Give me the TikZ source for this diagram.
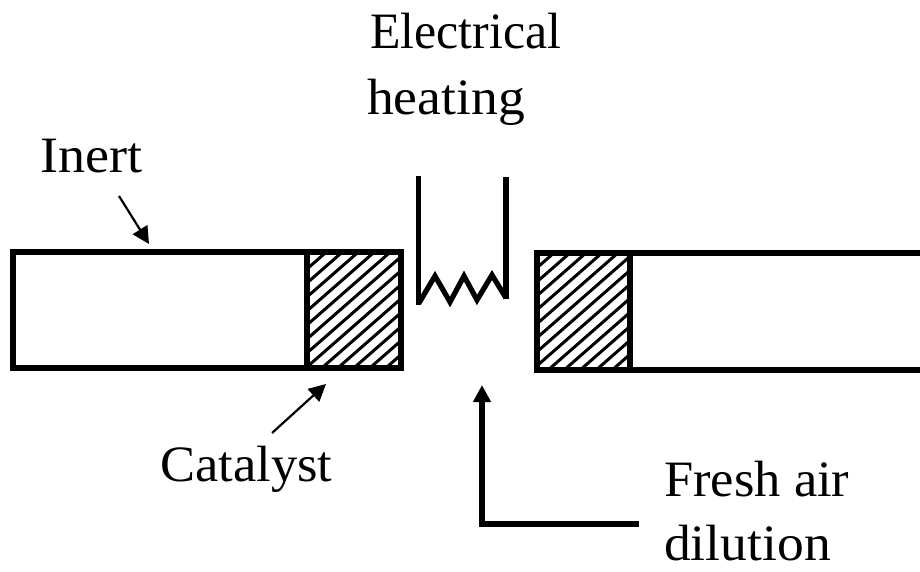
\documentclass[tikz,border=0pt]{standalone}
\usepackage{fontspec}
\setmainfont[FakeStretch=1.04]{Liberation Serif}
\usetikzlibrary{arrows.meta}
\tikzset{
  wall/.style={line width=6pt,line cap=butt,line join=miter,draw=black},
  thinarrow/.style={line width=2.2pt,draw=black,-{Triangle[length=17pt,width=17pt]}},
  feedarrow/.style={line width=6pt,draw=black,line join=miter,-{Triangle[length=17pt,width=17pt]}},
  hatchline/.style={line width=3pt,draw=black},
  heater/.style={line width=5.2pt,draw=black,line join=miter},
  lbl/.style={anchor=base west,inner sep=0pt,transform shape,font=\fontsize{51}{60}\selectfont}
}
\begin{document}
\begin{tikzpicture}[x=1pt,y=-1pt]
\useasboundingbox (0,0) rectangle (920,571);
% hatching
\begin{scope}
\clip (307,251.5) rectangle (400,368);
\foreach \i in {-10,...,8} \draw[hatchline] (303.5+\i*16,370) -- ++(160,-140);
\end{scope}
\begin{scope}
\clip (536,253) rectangle (630,369);
\foreach \i in {-10,...,8} \draw[hatchline] (531+\i*16,371) -- ++(160,-140);
\end{scope}
% left unit
\draw[wall] (13,251.5) rectangle (307,368);
\draw[wall] (307,251.5) rectangle (400.5,368);
% right unit
\draw[wall] (630,253) rectangle (536.5,369.5);
\draw[wall] (630,253) -- (920,253);
\draw[wall] (630,369.5) -- (920,369.5);
% heater
\draw[heater] (418.5,176) -- (418.5,305);
\draw[heater] (419,303) -- (435,276) -- (450,302) -- (464,276) -- (477,300) -- (492,275) -- (506,298);
\draw[heater] (506,177) -- (506,299);
% labels
\node[lbl,xscale=.94] (elec) at (370,48) {Electrical};
\node[lbl,xscale=1.01] (heat) at (367,114) {heating};
\node[lbl,xscale=1.02] (inert) at (40,172) {Inert};
\node[lbl,xscale=.99] (cat) at (160,481) {Catalyst};
\node[lbl,xscale=.99] (fresh) at (664,496) {Fresh air};
\node[lbl,xscale=1.01] (dil) at (664,560) {dilution};
% arrows
\coordinate (inertS) at (119,196);
\coordinate (inertT) at (149,244);
\coordinate (catS) at (272,433);
\coordinate (catT) at (326,384);
\coordinate (feedS) at (639,524);
\coordinate (feedC) at (482,524);
\coordinate (feedT) at (482,385);
\draw[thinarrow] (inertS) -- (inertT);
\draw[thinarrow] (catS) -- (catT);
\draw[feedarrow] (feedS) -- (feedC) -- (feedT);
\end{tikzpicture}
\end{document}
